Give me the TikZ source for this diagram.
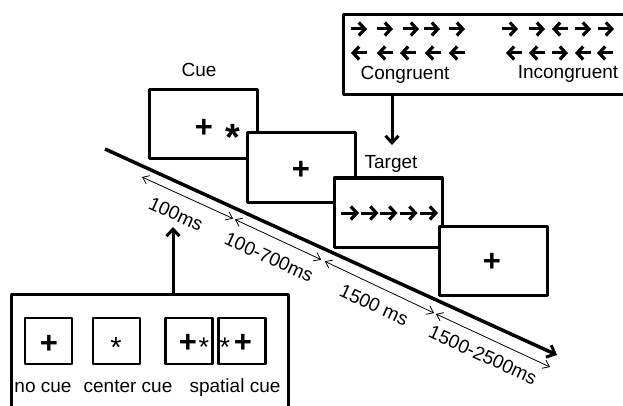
\documentclass[tikz,border=0pt]{standalone}
\usepackage{fontspec}
\setmainfont{Liberation Sans}
\usetikzlibrary{calc}
\usetikzlibrary{arrows.meta}
\newcommand{\lblfont}{\fontsize{19}{22}\selectfont}
\newcommand{\plusfont}{\fontsize{31}{31}\selectfont\bfseries}

\begin{document}
\begin{tikzpicture}[line join=round,x=1pt,y=-1pt,
    >={Straight Barb[length=7pt,width=13pt,line width=3pt]},
    screen/.style={draw,line width=3pt,fill=white,inner sep=0pt,minimum width=108pt,minimum height=69pt},
    minibox/.style={draw,line width=2.5pt,inner sep=0pt,minimum width=47pt,minimum height=46pt},
    flk/.style={line width=3pt,-{Straight Barb[length=6pt,width=13pt,line width=3.2pt]}},
    dur/.style={line width=0.8pt,{Straight Barb[length=6pt,width=9pt,line width=0.8pt]}-{Straight Barb[length=6pt,width=9pt,line width=0.8pt]}},
    txt/.style={font=\lblfont,inner sep=0pt},
    sym/.style={font=\plusfont,inner sep=0pt}]
\useasboundingbox (0,0) rectangle (623,406);
\clip (0,0) rectangle (623,406);

% flanker types
\node[screen,anchor=north west,minimum width=300pt,minimum height=80pt] (flank) at (342,13) {};
\foreach \x in {359,385,411,432,457}
  \draw[flk] (\x-8,29) -- (\x+8,29);
\foreach \x in {359,385,408,433,457}
  \draw[flk] (\x+8,53) -- (\x-8,53);
\foreach \x/\d in {510/1,537/1,560/-1,583/1,606/1}
  \draw[flk] (\x-8*\d,29) -- (\x+8*\d,29);
\foreach \x/\d in {514/-1,537/-1,560/1,583/-1,605/-1}
  \draw[flk] (\x-8*\d,53) -- (\x+8*\d,53);
\node[txt,anchor=base] (congr) at (405,80) {Congruent};
\node[txt,anchor=base] (incongr) at (568,79) {Incongruent};

% trial screens
\node[screen] (cue) at (203.5,124.5) {};
\node[txt,anchor=base] (cuelbl) at (199,77) {Cue};
\node[sym] (cueplus) at (204,128) {+};
\node[sym,font=\fontsize{38}{38}\selectfont\bfseries] (cuestar) at (233,137) {*};

\node[screen] (fix1) at (301.5,167.5) {};
\node[sym] (fix1plus) at (301,170) {+};

\node[screen] (tgt) at (388,212.5) {};
\node[txt,anchor=base] (tgtlbl) at (391,168) {Target};
\foreach \x in {350,369.5,388.5,408.5,429}
  \draw[flk] (\x-9,213) -- (\x+9,213);

\node[screen] (fix2) at (493,260.5) {};
\node[sym] (fix2plus) at (492,262) {+};

\coordinate (tgttip) at (392,145);
\draw[->,line width=3pt] (flank.south -| tgttip) -- (tgttip);

% time line
\coordinate (tstart) at (105,149);
\coordinate (tend) at (557,355);
\draw[->,line width=3.5pt] (tstart) -- (tend);

\coordinate (d0) at (142,177);
\coordinate (d1) at (234,219);
\coordinate (d2) at (323,260.5);
\coordinate (d3) at (435,313.5);
\coordinate (d4) at (550,367);
\draw[dur,shorten >=1pt] (d0) -- (d1);
\draw[dur,shorten <=1pt,shorten >=2pt] (d1) -- (d2);
\draw[dur,shorten <=2pt,shorten >=1pt] (d2) -- (d3);
\draw[dur,shorten <=1pt] (d3) -- (d4);
\node[txt,rotate=-24.5] (t100) at (176,214) {100ms};
\node[txt,rotate=-24.5] (t700) at (269,257) {100-700ms};
\node[txt,rotate=-24.5] (t1500) at (374,305) {1500 ms};
\node[txt,rotate=-24.5] (t2500) at (483,355) {1500-2500ms};

% cue types
\node[screen,anchor=north west,minimum width=277pt,minimum height=130pt] (cuetypes) at (10,293) {};
\node[minibox] (nocue) at (48.5,341) {};
\node[minibox] (centercue) at (116.5,341) {};
\node[minibox] (spatcuea) at (189,341) {};
\node[minibox] (spatcueb) at (242,341) {};
\node[sym] at (49,344) {+};
\node[sym,font=\fontsize{29}{29}\selectfont] at (116,348) {*};
\node[sym] at (188,343) {+};
\node[sym,font=\fontsize{27}{27}\selectfont] at (204,347) {*};
\node[sym,font=\fontsize{27}{27}\selectfont] at (225,347) {*};
\node[sym] at (243,343) {+};
\node[txt,anchor=base] (nocuelbl) at (43,392) {no cue};
\node[txt,anchor=base] (centerlbl) at (128,392) {center cue};
\node[txt,anchor=base] (spatlbl) at (235,392) {spatial cue};

\coordinate (cuetip) at (173,227);
\draw[->,line width=3pt] (cuetypes.north -| cuetip) -- (cuetip);
\end{tikzpicture}
\end{document}
